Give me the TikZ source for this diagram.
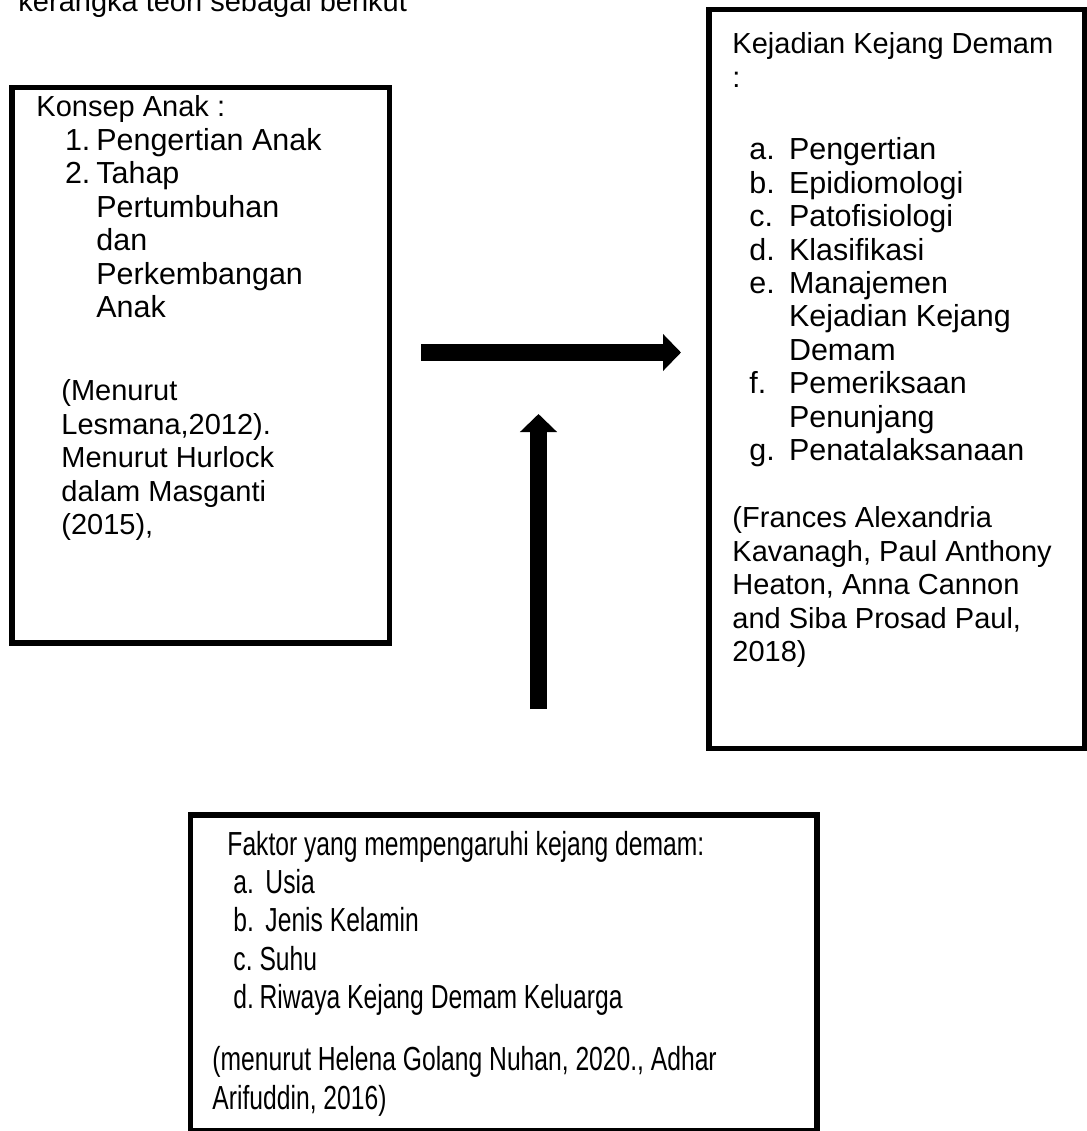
\documentclass[tikz,border=0pt]{standalone}
\usepackage{fontspec}
\setmainfont{Liberation Sans}
\usetikzlibrary{arrows.meta}

\tikzset{
  boxframe/.style={draw, line width=2.1pt},
  boxtext/.style={anchor=base west, inner sep=0pt, font=\fontsize{12}{13.85}\selectfont},
  blockarrow/.style={line width=7pt, -{Triangle[width=14.9pt,length=7.45pt]}}
}
% list entries are set a little larger than the headings
\newcommand{\listfont}{\fontsize{12.6}{13.85}\selectfont}
\newcommand{\numrow}[4]{\hspace*{#1}\smash{\listfont\makebox[#2][l]{#3}#4}}
\newcommand{\controw}[2]{\hspace*{#1}\smash{\listfont #2}}

\begin{document}
\begin{tikzpicture}[x=0.4138pt, y=-0.4138pt]
  \useasboundingbox (0,0) rectangle (1087,1131);

  % intro line, cut at the top
  \node[boxtext] (intro) at (18,12) {kerangka teori sebagai berikut};

  % left box
  \draw[boxframe] (12,87.5) rectangle (389.5,643);
  \node[boxtext] (anak) at (36,117) {\begin{tabular}[t]{@{}l@{}}
    Konsep Anak :\\
    \numrow{11.8pt}{13pt}{1.}{Pengertian Anak}\\
    \numrow{11.8pt}{13pt}{2.}{Tahap}\\
    \controw{24.8pt}{Pertumbuhan}\\
    \controw{24.8pt}{dan}\\
    \controw{24.8pt}{Perkembangan}\\
    \controw{24.8pt}{Anak}\\[20.5pt]
    \hspace*{10.3pt}(Menurut\\
    \hspace*{10.3pt}Lesmana,2012).\\
    \hspace*{10.3pt}Menurut Hurlock\\
    \hspace*{10.3pt}dalam Masganti\\
    \hspace*{10.3pt}(2015),
  \end{tabular}};

  % right box
  \draw[boxframe] (709,9.5) rectangle (1084.5,748.5);
  \node[boxtext] (kejang) at (732,54) {\begin{tabular}[t]{@{}l@{}}
    Kejadian Kejang Demam\\
    :\\[16pt]
    \numrow{7pt}{16.4pt}{a.}{Pengertian}\\
    \numrow{7pt}{16.4pt}{b.}{Epidiomologi}\\
    \numrow{7pt}{16.4pt}{c.}{Patofisiologi}\\
    \numrow{7pt}{16.4pt}{d.}{Klasifikasi}\\
    \numrow{7pt}{16.4pt}{e.}{Manajemen}\\
    \controw{23.4pt}{Kejadian Kejang}\\
    \controw{23.4pt}{Demam}\\
    \numrow{7pt}{16.4pt}{f.}{Pemeriksaan}\\
    \controw{23.4pt}{Penunjang}\\
    \numrow{7pt}{16.4pt}{g.}{Penatalaksanaan}\\[13.85pt]
    (Frances Alexandria\\
    Kavanagh, Paul Anthony\\
    Heaton, Anna Cannon\\
    and Siba Prosad Paul,\\
    2018)
  \end{tabular}};

  % bottom box
  \draw[boxframe] (190.5,815) rectangle (817,1131);
  \node[boxtext] (faktor) at (212,855) {\scalebox{0.85}[1.15]{\begin{tabular}[t]{@{}l@{}}
    \hspace*{7.3pt}Faktor yang mempengaruhi kejang demam:\\
    \hspace*{10.2pt}\makebox[15.6pt][l]{a.}Usia\\
    \hspace*{10.2pt}\makebox[15.6pt][l]{b.}Jenis Kelamin\\
    \hspace*{10.2pt}\makebox[12.7pt][l]{c.}Suhu\\
    \hspace*{10.2pt}\makebox[12.7pt][l]{d.}Riwaya Kejang Demam Keluarga\\[8.4pt]
    (menurut Helena Golang Nuhan, 2020., Adhar\\
    Arifuddin, 2016)
  \end{tabular}}};

  % arrows
  \coordinate (hfrom) at (421,352.5);
  \coordinate (hto) at (681,352.5);
  \coordinate (vfrom) at (538.5,709);
  \coordinate (vto) at (538.5,414);
  \draw[blockarrow] (hfrom) -- (hto);
  \draw[blockarrow] (vfrom) -- (vto);
\end{tikzpicture}
\end{document}
